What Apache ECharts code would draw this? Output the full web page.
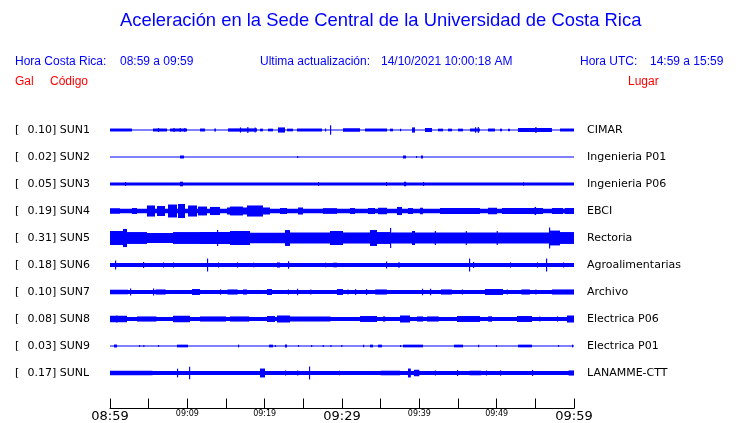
<!DOCTYPE html>
<html><head><meta charset="utf-8">
<script src="https://cdn.jsdelivr.net/npm/echarts@6/dist/echarts.min.js"></script>
<style>html,body{margin:0;padding:0;background:#fff;}#c{width:740px;height:423px;}</style>
</head><body><div id="c"></div>
<script>
// ---- data ----
const stationCodes = ['SUN1','SUN2','SUN3','SUN4','SUN5','SUN6','SUN7','SUN8','SUN9','SUNL'];
const galValues = ['0.10','0.02','0.05','0.19','0.31','0.18','0.10','0.08','0.03','0.17'];
const places = ['CIMAR','Ingenieria P01','Ingenieria P06','EBCI','Rectoria','Agroalimentarias','Archivo','Electrica P06','Electrica P01','LANAMME-CTT'];
const tickLabels = ['08:59','09:04','09:09','09:14','09:19','09:24','09:29','09:34','09:39','09:44','09:49','09:54','09:59'];
// continuous background amplitude of each trace (relative, 10 = half of a row)
const baseAmp = [0.4, 0.4, 1.1, 1.7, 3.7, 1.5, 1.5, 1.5, 0.4, 1.5];
// bursts: [start minute, end minute, amplitude]
const sun1Bursts = [[0,2.84,1.1],[5.56,7.37,1.1],[6.2,6.35,1.5],[7.76,9.96,1.1],[8.2,8.35,1.5],[9.0,9.15,1.5],[9.6,9.75,1.5],
 [11.64,12.28,1.1],[13.5,13.7,1.1],[15.26,19.01,1.2],[16.8,16.95,1.9],[17.75,17.9,2.2],[18.7,18.85,1.9],[19.4,19.78,1.0],
 [20.43,21.08,1.0],[21.72,22.63,1.9],[22.89,23.66,1.0],[24.18,27.41,1.1],[27.8,27.95,1.1],[28.45,28.6,3.5],[30.13,32.33,1.3],
 [32.97,35.82,1.1],[36.21,36.59,1.0],[37.5,37.65,1.0],[39.05,39.44,1.9],[40.73,41.64,1.5],[42.41,43.06,1.0],[43.71,44.22,1.0],
 [45.0,45.65,1.0],[46.55,47.84,1.1],[47.55,47.7,2.2],[47.2,47.35,2.0],[48.88,49.78,1.1],[50.43,50.69,1.0],[51.47,51.72,1.0],
 [52.76,57.15,1.5],[55.0,55.15,2.2],[58.19,60,1.1]];
const sun2Bursts = [[9.05,9.57,1.1],[24.2,24.35,0.7],[37.89,38.28,1.1],[39.57,39.7,0.7],[40.22,40.47,1.1]];
const sun3Bursts = [[1.94,2.1,1.5],[9.05,9.44,1.7],[26.9,27.05,1.5],[35.69,35.84,1.5],[38.02,38.3,1.7],[40.47,40.62,1.5],[53.4,53.55,1.3]];
const sun4Bursts = [[0,1.29,2.0],[2.84,3.49,2.2],[4.78,5.82,4.1],[6.08,7.11,3.7],[7.5,8.66,4.8],[8.79,9.7,5.2],[10.09,11.25,4.1],
 [11.38,12.54,3.3],[12.93,14.22,3.0],[15.13,18.1,2.6],[15.52,17.2,3.3],[17.72,19.78,4.1],[19.78,20.69,2.6],[21.98,22.89,2.2],
 [24.31,24.96,2.6],[27.54,29.35,2.1],[31.03,31.68,2.2],[33.36,34.27,2.2],[34.65,35.82,2.4],[37.11,37.76,3.0],[38.53,39.18,2.2],
 [40.09,40.47,2.4],[42.67,47.84,2.2],[48.88,50.04,2.4],[50.69,55.99,2.2],[54.9,55.1,3.0],[57.15,58.58,2.2],[58.8,60,2.2]];
const sun5Bursts = [[0,1.68,5.2],[1.68,2.2,6.7],[2.2,4.78,4.4],[8.15,11.64,4.4],[11.64,18.1,4.4],[13.84,13.99,5.9],[15.52,18.1,5.2],
 [18.1,22.63,3.9],[22.63,23.28,5.9],[23.28,28.45,4.1],[28.45,30.13,5.2],[30.13,33.62,4.1],[33.62,34.53,5.9],[34.53,36.21,4.4],
 [36.21,36.36,7.4],[36.36,39.05,4.1],[39.05,39.44,5.2],[39.44,56.77,4.1],[42.0,42.15,5.2],[46.0,46.15,5.2],[50.0,50.15,5.2],
 [56.77,58.19,5.5],[56.77,56.92,7.8],[58.19,60,4.4]];
const sun6Bursts = [[0.65,0.8,3.3],[4.27,4.42,2.2],[6.85,7.0,1.9],[8.15,8.3,1.9],[12.54,12.69,4.8],[13.97,14.12,1.9],[16.42,16.57,1.9],
 [18.49,18.64,1.7],[21.59,21.98,1.9],[23.02,23.17,2.8],[27.8,27.95,1.7],[28.84,29.35,1.7],[35.69,35.84,2.6],[37.24,37.5,1.9],
 [46.42,46.57,4.8],[46.94,47.09,2.2],[51.72,51.87,1.9],[55.21,55.36,1.9],[56.38,56.53,4.8],[58.58,58.73,1.9]];
const sun7Bursts = [[0,2.33,1.7],[2.59,2.74,2.6],[5.56,5.71,2.6],[5.9,7.2,1.9],[10.6,11.64,2.2],[14.22,14.37,2.0],[15.2,16.5,1.9],
 [17.2,17.72,1.9],[20.3,20.95,2.2],[23.0,23.15,1.9],[24.18,24.33,2.4],[25.9,26.05,1.9],[29.35,30.13,2.2],[30.7,30.85,1.9],
 [31.68,31.83,2.2],[33.1,33.25,2.2],[34.3,35.8,1.9],[40.34,40.49,2.4],[41.38,41.53,2.4],[42.8,44.2,1.9],[45.5,45.65,1.9],
 [48.49,50.82,2.2],[51.3,51.45,1.9],[53.2,54.3,1.9],[55.0,55.15,1.9],[57.15,60,1.9]];
const sun8Bursts = [[0,2.2,2.4],[0.8,0.95,2.6],[3.5,6.0,1.9],[8.15,10.34,2.4],[11.64,15.0,1.9],[15.5,18.0,1.9],[20.3,21.34,2.2],
 [21.59,23.28,2.6],[23.28,28.5,1.9],[32.33,34.53,2.2],[35.3,35.6,1.9],[37.5,38.79,2.6],[39.7,40.5,1.9],[41.0,42.5,1.9],
 [44.87,47.84,2.2],[48.9,49.4,2.0],[52.63,54.57,2.2],[55.5,55.65,1.9],[57.8,57.95,1.9],[59.09,60,2.6]];
const sun9Bursts = [[0.52,0.9,1.1],[3.75,3.9,0.7],[4.3,4.45,0.7],[6.2,6.35,0.7],[8.66,10.09,1.0],[16.55,16.7,1.0],[20.56,21.08,1.0],
 [21.3,21.45,0.7],[22.63,22.89,1.1],[24.3,24.45,0.7],[26.0,26.15,0.7],[27.5,27.65,0.7],[28.5,28.65,0.7],[29.9,30.05,0.7],
 [32.72,32.87,1.0],[33.62,34.01,1.0],[34.65,35.17,1.0],[37.5,37.65,0.7],[37.89,40.47,1.0],[44.48,45.65,1.0],[47.59,47.74,1.0],
 [49.9,50.05,0.7],[52.76,54.57,1.0],[57.93,58.08,0.7],[59.74,59.89,1.0]];
const sunlBursts = [[0,5.5,1.7],[8.66,8.81,3.2],[10.22,10.37,4.7],[19.4,20.04,3.3],[22.63,22.78,1.9],[24.2,24.35,1.9],[25.73,25.88,4.8],
 [29.6,29.75,1.7],[35.0,37.5,1.7],[38.53,38.9,3.3],[39.3,40.0,2.4],[42.0,42.15,1.9],[44.87,45.02,2.2],[46.5,48.0,1.7],
 [48.6,48.75,1.9],[50.43,50.58,2.0],[54.57,54.72,2.2],[59.3,60,1.9]];
const allBursts = [sun1Bursts,sun2Bursts,sun3Bursts,sun4Bursts,sun5Bursts,sun6Bursts,sun7Bursts,sun8Bursts,sun9Bursts,sunlBursts];

// ---- build ----
const BLUE = '#0000ff';
const traceData = [];
stationCodes.forEach((c, i) => {
  traceData.push([0, 60, i, baseAmp[i]]);
  allBursts[i].forEach(b => traceData.push([b[0], b[1], i, b[2]]));
});

const chart = echarts.init(document.getElementById('c'), null, {renderer: 'canvas'});
const txt = (x, y, s, color, size) => ({type: 'text', left: x, top: y,
  style: {text: s, fill: color, font: (size || 12) + 'px "Liberation Sans", Arial, sans-serif'}});

chart.setOption({
  animation: false,
  backgroundColor: '#fff',
  graphic: [
    txt(120, 12, 'Aceleración en la Sede Central de la Universidad de Costa Rica', BLUE, 18.4),
    txt(15, 56, 'Hora Costa Rica:', BLUE), txt(120, 56, '08:59 a 09:59', BLUE),
    txt(260, 56, 'Ultima actualización:', BLUE), txt(381, 56, '14/10/2021 10:00:18 AM', BLUE),
    txt(580, 56, 'Hora UTC:', BLUE), txt(650, 56, '14:59 a 15:59', BLUE),
    txt(15, 76, 'Gal', '#ff0000'), txt(50, 76, 'Código', '#ff0000'), txt(628, 76, 'Lugar', '#ff0000')
  ],
  grid: [
    {left: 110, right: 166, top: 116.5, height: 270},
    {left: 110, right: 166, top: 398, height: 10.5}
  ],
  xAxis: [
    {gridIndex: 0, type: 'value', min: 0, max: 60, show: false},
    {gridIndex: 1, type: 'value', min: 0, max: 60, interval: 5,
      axisLine: {show: true, lineStyle: {color: '#000', width: 1}},
      axisTick: {show: true, inside: true, length: 10, lineStyle: {color: '#000', width: 1}},
      splitLine: {show: false},
      axisLabel: {margin: 0, verticalAlign: 'top', showMinLabel: true, showMaxLabel: true,
        formatter: v => {
          const k = Math.round(v / 5); const s = tickLabels[k];
          if (v % 30 === 0) return '{big|' + s + '}';
          if (v % 10 === 0) return '{small|' + s + '}';
          return '';
        },
        rich: {
          big: {fontSize: 13, lineHeight: 13, fontFamily: '"DejaVu Sans"', color: '#000', padding: [3, 0, 0, 0]},
          small: {fontSize: 8, lineHeight: 8, fontFamily: '"DejaVu Sans"', color: '#000', padding: [2.5, 0, 0, 0]}
        }}}
  ],
  yAxis: [
    {gridIndex: 0, type: 'category', inverse: true, data: stationCodes, position: 'left',
      axisLine: {show: false}, axisTick: {show: false}, splitLine: {show: false},
      axisLabel: {align: 'left', margin: 95, color: '#000', fontSize: 11, fontFamily: '"DejaVu Sans"',
        formatter: (v, i) => '{b|[}' + galValues[i] + '] ' + v,
        rich: {b: {width: 12.5, fontSize: 11, fontFamily: '"DejaVu Sans"', color: '#000'}}}},
    {gridIndex: 0, type: 'category', inverse: true, data: places, position: 'right',
      axisLine: {show: false}, axisTick: {show: false}, splitLine: {show: false},
      axisLabel: {align: 'left', margin: 13, color: '#000', fontSize: 11, fontFamily: '"DejaVu Sans"'}},
    {gridIndex: 1, type: 'value', show: false}
  ],
  series: [{
    type: 'custom', xAxisIndex: 0, yAxisIndex: 0,
    encode: {x: [0, 1], y: 2},
    data: traceData,
    renderItem: (params, api) => {
      const idx = api.value(2);
      const p1 = api.coord([api.value(0), idx]);
      const p2 = api.coord([api.value(1), idx]);
      const band = api.size([0, 1])[1];
      const h = Math.max(1, 2 * api.value(3) * band / 20);
      const w = Math.max(1, p2[0] - p1[0]);
      return {type: 'rect', shape: {x: p1[0], y: p1[1] - h / 2, width: w, height: h}, style: {fill: BLUE}};
    }
  }]
});
</script></body></html>
